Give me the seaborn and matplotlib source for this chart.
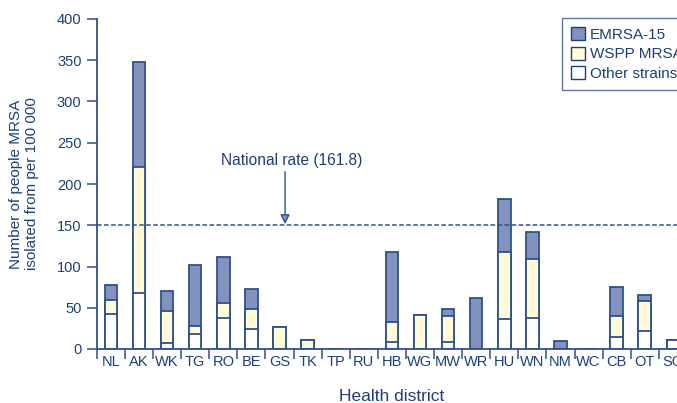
import matplotlib
matplotlib.use("Agg")
import matplotlib.pyplot as plt
from matplotlib.patches import Patch
import seaborn as sns
import pandas as pd
import numpy as np

districts = ["NL", "AK", "WK", "TG", "RO", "BE", "GS", "TK", "TP", "RU", "HB",
             "WG", "MW", "WR", "HU", "WN", "NM", "WC", "CB", "OT", "SO"]
other = [42, 68, 7, 18, 37, 24, 0, 0, 0, 0, 8, 0, 8, 0, 36, 38, 0, 0, 15, 22, 11]
wspp = [18, 153, 39, 10, 19, 24, 27, 11, 0, 0, 25, 41, 32, 0, 82, 71, 0, 0, 25, 36, 0]
emrsa = [17, 127, 24, 74, 56, 25, 0, 0, 0, 0, 84, 0, 8, 62, 64, 33, 10, 0, 35, 7, 0]
national_line = 150
national_label = "National rate (161.8)"

NAVY = "#1d3f7a"
EDGE = "#2f5189"
C_EMRSA = "#8192bd"
C_WSPP = "#fffbd8"
C_OTHER = "#ffffff"

df = pd.DataFrame({"district": districts, "other": other, "wspp": wspp, "emrsa": emrsa})
df["lvl1"] = df["other"]
df["lvl2"] = df["other"] + df["wspp"]
df["lvl3"] = df["lvl2"] + df["emrsa"]

sns.set_style("white")
plt.rcParams["font.family"] = ["Liberation Sans", "DejaVu Sans"]

fig = plt.figure(figsize=(6.77, 4.03), dpi=100)
ax = fig.add_axes([96.8 / 677, 1 - 349 / 403, 21 * 28.1 / 677, 330 / 403])

for col, colr in [("lvl3", C_EMRSA), ("lvl2", C_WSPP), ("lvl1", C_OTHER)]:
    sns.barplot(data=df, x="district", y=col, order=districts, color=colr,
                width=0.45, edgecolor=EDGE, linewidth=1.3, saturation=1, ax=ax)

ax.set_xlim(-0.5, len(districts) - 0.5)
ax.set_ylim(0, 400)
ax.set_yticks(np.arange(0, 401, 50))

ax.set_xticks(np.arange(-0.5, len(districts), 1.0))
ax.set_xticklabels([])
ax.set_xticks(np.arange(len(districts)), minor=True)
ax.set_xticklabels(districts, minor=True)
ax.tick_params(axis="x", which="major", length=7, width=1.1, color=EDGE, direction="out", bottom=True)
ax.tick_params(axis="x", which="minor", length=0, pad=4, labelsize=10.5, labelcolor=NAVY)
ax.tick_params(axis="y", length=7, width=1.1, color=EDGE, direction="out", left=True,
               labelsize=10.5, labelcolor=NAVY, pad=4)

for s in ["top", "right"]:
    ax.spines[s].set_visible(False)
for s in ["left", "bottom"]:
    ax.spines[s].set_color(EDGE)
    ax.spines[s].set_linewidth(1.3)

ax.set_xlabel("Health district", fontsize=12.5, color=NAVY, labelpad=15)
ax.set_ylabel("Number of people MRSA\nisolated from per 100 000", fontsize=11,
              color=NAVY, labelpad=13, linespacing=1.15)

ax.axhline(national_line, color=EDGE, lw=1.1, ls=(0, (3, 1.6)), zorder=1)
ax.text(6.45, 228, national_label, ha="center", va="center", fontsize=11.2, color=NAVY)
ax.annotate("", xy=(6.2, national_line + 1.5), xytext=(6.2, 215),
            arrowprops=dict(arrowstyle="-|>,head_length=0.55,head_width=0.28",
                            color=EDGE, lw=1.0, fc="#8192bd",
                            shrinkA=0, shrinkB=0))

handles = [Patch(facecolor=C_EMRSA, edgecolor=NAVY, lw=1.0, label="EMRSA-15"),
           Patch(facecolor=C_WSPP, edgecolor=NAVY, lw=1.0, label="WSPP MRSA"),
           Patch(facecolor=C_OTHER, edgecolor=NAVY, lw=1.0, label="Other strains")]
leg = fig.legend(handles=handles, loc="upper left", bbox_to_anchor=(561.7 / 677, 1 - 18 / 403),
                 fontsize=11, frameon=True, fancybox=False, handlelength=0.95,
                 handleheight=0.95, handletextpad=0.3, labelspacing=0.3,
                 borderpad=0.6, borderaxespad=0)
leg.get_frame().set_edgecolor(EDGE)
leg.get_frame().set_linewidth(1.0)
for t in leg.get_texts():
    t.set_color(NAVY)

fig.savefig("out.png", dpi=100)
